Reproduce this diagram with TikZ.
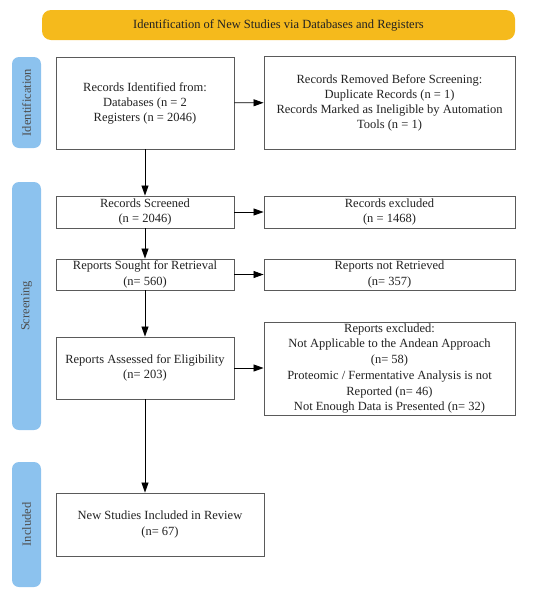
\documentclass[tikz,border=0pt]{standalone}
\usepackage{fontspec}
\setmainfont{Liberation Serif}
\usetikzlibrary{arrows.meta}
\definecolor{gold}{HTML}{F5BA1C}
\definecolor{sideblue}{HTML}{8CC2EE}
\definecolor{boxline}{HTML}{5A5A5A}
\definecolor{txt}{HTML}{222222}
\tikzset{
  box/.style={draw=boxline, line width=0.9pt, fill=white, align=center, inner sep=1pt, text=txt, font=\fontsize{12.5}{15}\selectfont},
  side/.style={fill=sideblue, rounded corners=7pt, rotate=90, minimum height=29pt, inner sep=0pt, text=txt!80, font=\fontsize{12.5}{14}\selectfont},
  flow/.style={-{Triangle[length=10pt,width=7pt]}, line width=0.8pt, draw=black},
}
\begin{document}
\begin{tikzpicture}[x=1pt,y=-1pt]
\useasboundingbox (0,0) rectangle (550,595);
\node[fill=gold, rounded corners=9pt, minimum width=473pt, minimum height=30pt, inner sep=0pt, text=txt, font=\fontsize{12.5}{14}\selectfont] (banner) at (278.5,25) {Identification of New Studies via Databases and Registers};
\node[side, minimum width=91pt] (sid) at (26.5,102.5) {Identification};
\node[side, minimum width=248pt] (sscr) at (26.5,306) {Screening};
\node[side, minimum width=125pt] (sinc) at (26.5,524.5) {Included};
\node[box, minimum width=178pt, minimum height=92pt] (b1) at (145,103) {Records Identified from:\\Databases (n = 2\\Registers (n = 2046)};
\node[box, minimum width=251pt, minimum height=93pt] (b2) at (389.5,102.5) {Records Removed Before Screening:\\Duplicate Records (n = 1)\\Records Marked as Ineligible by Automation\\Tools (n = 1)};
\node[box, minimum width=178pt, minimum height=32pt, font=\fontsize{12.5}{15.7}\selectfont] (b3) at (145,212) {Records Screened\\(n = 2046)};
\node[box, minimum width=251pt, minimum height=32pt, font=\fontsize{12.5}{15.7}\selectfont] (b4) at (389.5,212) {Records excluded\\(n = 1468)};
\node[box, minimum width=178pt, minimum height=31pt, font=\fontsize{12.5}{15.7}\selectfont] (b5) at (145,274.5) {Reports Sought for Retrieval\\(n= 560)};
\node[box, minimum width=251pt, minimum height=31pt, font=\fontsize{12.5}{15.7}\selectfont] (b6) at (389.5,274.5) {Reports not Retrieved\\(n= 357)};
\node[box, minimum width=178pt, minimum height=62pt, font=\fontsize{12.5}{15.7}\selectfont] (b7) at (145,368) {Reports Assessed for Eligibility\\(n= 203)};
\node[box, minimum width=251pt, minimum height=93pt, font=\fontsize{12.5}{15.7}\selectfont] (b8) at (389.5,368.5) {Reports excluded:\\Not Applicable to the Andean Approach\\(n= 58)\\Proteomic / Fermentative Analysis is not\\Reported (n= 46)\\Not Enough Data is Presented (n= 32)};
\node[box, minimum width=208pt, minimum height=63pt, font=\fontsize{12.5}{15.7}\selectfont] (b9) at (160,524.5) {New Studies Included in Review\\(n= 67)};
\draw[flow] (b1) -- (b2);
\draw[flow] (b3) -- (b4);
\draw[flow] (b5) -- (b6);
\draw[flow] (b7) -- (b8.west |- b7);
\draw[flow] (b1) -- (b3);
\draw[flow] (b3) -- (b5);
\draw[flow] (b5) -- (b7);
\draw[flow] (b7.south) -- (b7.south |- b9.north);
\end{tikzpicture}
\end{document}
